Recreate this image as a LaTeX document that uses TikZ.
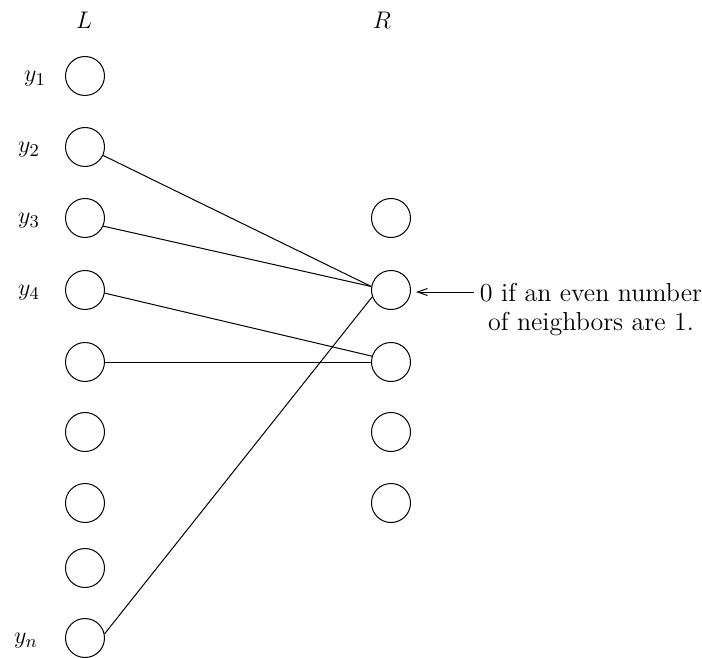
\documentclass[tikz,border=0pt]{standalone}
\usepackage{tikz}
\usetikzlibrary{arrows.meta}

\begin{document}
\begin{tikzpicture}[x=0.5pt,y=-0.5pt,line width=0.5pt,font=\fontsize{13}{14.5}\selectfont,
  vtx/.style={circle,draw,inner sep=0pt,minimum size=19.5pt}]
  \useasboundingbox (0,0) rectangle (702,658);
  \node (lhead) at (84,20) {$L$};
  \node (rhead) at (382,20) {$R$};
  % left column
  \foreach \n/\y in {1/76,2/147,3/218,4/290,5/362,6/432,7/503,8/568,9/638}
    \node[vtx] (l\n) at (85,\y) {};
  % right column
  \foreach \n/\y in {1/218,2/290,3/362,4/432,5/503}
    \node[vtx] (r\n) at (391,\y) {};
  \node (ly1) at (35,79) {$y_1$};
  \node (ly2) at (29,150) {$y_2$};
  \node (ly3) at (29,221) {$y_3$};
  \node (ly4) at (29,293) {$y_4$};
  \node (lyn) at (26,641) {$y_n$};
  % edges
  \draw (l2.-25) -- (r2.170);
  \draw (l3.-24) -- (r2.170);
  \draw (l4.-9) -- (r3.163);
  \draw (l5.east) -- (r3.west);
  \draw (l9.12) -- (r2.200);
  % parity note
  \node[align=center] (note) at (591,310) {0 if an even number\\of neighbors are 1.};
  \coordinate (tail) at (474,292);
  \draw[-{Straight Barb[length=5pt,width=3.5pt]},shorten >=2.5pt] (tail) -- (tail -| r2.east);
\end{tikzpicture}
\end{document}
